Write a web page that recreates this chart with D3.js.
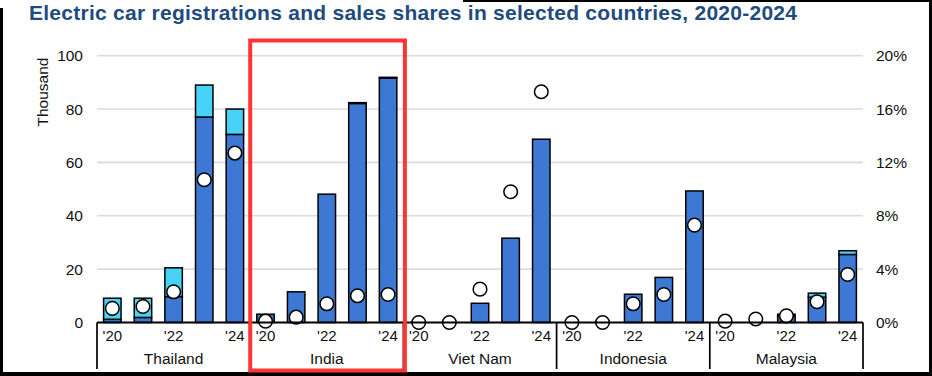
<!DOCTYPE html>
<html>
<head>
<meta charset="utf-8">
<script src="https://cdn.jsdelivr.net/npm/d3@7"></script>
<style>
  body { margin: 0; background: #fff; }
  svg { display: block; font-family: "Liberation Sans", Arial, sans-serif; }
</style>
</head>
<body>
<div id="chart-div"></div>
<script>
// Chart data
const countries = ["Thailand", "India", "Viet Nam", "Indonesia", "Malaysia"];
const years = ["2020", "2021", "2022", "2023", "2024"];
const yearLabels = ["'20", "", "'22", "", "'24"];

// thousand vehicles, dark part (lower) of each stack
const darkValues = {
    "Thailand":  [1.2, 1.9, 9.7, 77, 70.5],
    "India":     [3.1, 11.5, 48.1, 82.1, 91.6],
    "Viet Nam":  [0, 0, 7.2, 31.6, 68.7],
    "Indonesia": [0, 0, 10.6, 16.9, 49.3],
    "Malaysia":  [0, 0, 2.5, 9.5, 25.5]
};
// thousand vehicles, light part (upper) of each stack
const lightValues = {
    "Thailand":  [7.9, 7.2, 10.8, 12, 9.5],
    "India":     [0, 0, 0, 0.3, 0.3],
    "Viet Nam":  [0, 0, 0, 0, 0],
    "Indonesia": [0, 0, 0, 0, 0],
    "Malaysia":  [0, 0, 0.6, 1.5, 1.4]
};
// sales share, percent
const salesShare = {
    "Thailand":  [1.06, 1.2, 2.3, 10.7, 12.7],
    "India":     [0.1, 0.4, 1.4, 2.0, 2.1],
    "Viet Nam":  [0, 0, 2.5, 9.8, 17.3],
    "Indonesia": [0, 0, 1.4, 2.1, 7.3],
    "Malaysia":  [0.1, 0.26, 0.5, 1.56, 3.6]
};
const leftTicks = [0, 20, 40, 60, 80, 100];
const rightTicks = [0, 4, 8, 12, 16, 20];
const highlighted = "India";

const WIDTH = 932;
const HEIGHT = 376;
const PLOT = { left: 97, right: 863, top: 55.7, bottom: 322.5 };
const DARK = "#3c78d4";
const LIGHT = "#48d2f8";

const svg = d3.select("#chart-div").append("svg")
    .attr("width", WIDTH).attr("height", HEIGHT);

// Scales
const xGroup = d3.scaleBand().domain(countries).range([PLOT.left, PLOT.right]);
const xYear = d3.scaleBand().domain(years).range([0, xGroup.bandwidth()]).paddingInner(0.43).paddingOuter(0.215);
const yLeft = d3.scaleLinear().domain([0, 100]).range([PLOT.bottom, PLOT.top]);
const yRight = d3.scaleLinear().domain([0, 20]).range([PLOT.bottom, PLOT.top]);

// Outer frame of the picture
svg.append("rect").attr("x", 0).attr("y", 8).attr("width", 3).attr("height", HEIGHT - 8).attr("fill", "#000");
svg.append("rect").attr("x", 463).attr("y", 0).attr("width", WIDTH - 463).attr("height", 2).attr("fill", "#000");
svg.append("rect").attr("x", WIDTH - 3).attr("y", 0).attr("width", 3).attr("height", HEIGHT).attr("fill", "#000");
svg.append("rect").attr("x", 0).attr("y", HEIGHT - 4).attr("width", WIDTH).attr("height", 4).attr("fill", "#000");

// Title
svg.append("text")
    .attr("x", 29).attr("y", 19.5)
    .attr("font-size", 21).attr("font-weight", "bold")
    .attr("fill", "#1f4b7e")
    .attr("textLength", 768).attr("lengthAdjust", "spacing")
    .text("Electric car registrations and sales shares in selected countries, 2020-2024");

// Gridlines
svg.append("g").selectAll("line")
    .data(leftTicks.slice(1))
    .join("line")
    .attr("x1", PLOT.left).attr("x2", PLOT.right)
    .attr("y1", d => yLeft(d)).attr("y2", d => yLeft(d))
    .attr("stroke", "#dcdcdc").attr("stroke-width", 1.6);

// Left axis
const leftAxis = svg.append("g")
    .attr("transform", `translate(${PLOT.left},0)`)
    .call(d3.axisLeft(yLeft).tickValues(leftTicks).tickSize(0).tickPadding(14));
leftAxis.select(".domain").remove();
leftAxis.selectAll("text").attr("font-size", 15.5).attr("font-family", "Liberation Sans, Arial, sans-serif").attr("fill", "#111");

svg.append("text")
    .attr("transform", `translate(48,92) rotate(-90)`)
    .attr("text-anchor", "middle")
    .attr("font-size", 15.5).attr("fill", "#111")
    .text("Thousand");

// Right axis
const rightAxis = svg.append("g")
    .attr("transform", `translate(${PLOT.right},0)`)
    .call(d3.axisRight(yRight).tickValues(rightTicks).tickSize(0).tickPadding(13).tickFormat(d => d + "%"));
rightAxis.select(".domain").remove();
rightAxis.selectAll("text").attr("font-size", 15.5).attr("font-family", "Liberation Sans, Arial, sans-serif").attr("fill", "#111");

// Bars
const groups = svg.append("g").selectAll("g")
    .data(countries)
    .join("g")
    .attr("transform", c => `translate(${xGroup(c)},0)`);

groups.each(function (c) {
    const g = d3.select(this);
    const rows = years.map((yr, i) => ({ yr, dark: darkValues[c][i], light: lightValues[c][i] }));

    g.selectAll(".bar-dark")
        .data(rows.filter(d => d.dark > 0))
        .join("rect")
        .attr("class", "bar-dark")
        .attr("x", d => xYear(d.yr))
        .attr("width", xYear.bandwidth())
        .attr("y", d => yLeft(d.dark))
        .attr("height", d => yLeft(0) - yLeft(d.dark))
        .attr("fill", DARK).attr("stroke", "#000").attr("stroke-width", 1.5);

    g.selectAll(".bar-light")
        .data(rows.filter(d => d.light > 0))
        .join("rect")
        .attr("class", "bar-light")
        .attr("x", d => xYear(d.yr))
        .attr("width", xYear.bandwidth())
        .attr("y", d => yLeft(d.dark + d.light))
        .attr("height", d => yLeft(d.dark) - yLeft(d.dark + d.light))
        .attr("fill", LIGHT).attr("stroke", "#000").attr("stroke-width", 1.5);

    // Year labels
    g.selectAll(".year-label")
        .data(years.map((yr, i) => ({ yr, label: yearLabels[i] })).filter(d => d.label))
        .join("text")
        .attr("class", "year-label")
        .attr("x", d => xYear(d.yr) + xYear.bandwidth() / 2)
        .attr("y", 341)
        .attr("text-anchor", "middle")
        .attr("font-size", 15).attr("fill", "#111")
        .text(d => d.label);

    // Country label
    g.append("text")
        .attr("x", xGroup.bandwidth() / 2)
        .attr("y", 364)
        .attr("text-anchor", "middle")
        .attr("font-size", 15.5).attr("fill", "#111")
        .text(c);
});

// Baseline and category dividers
svg.append("line")
    .attr("x1", PLOT.left).attr("x2", PLOT.right)
    .attr("y1", yLeft(0)).attr("y2", yLeft(0))
    .attr("stroke", "#000").attr("stroke-width", 2);

const dividers = countries.map(c => xGroup(c)).concat([PLOT.right]);
svg.append("g").selectAll("line")
    .data(dividers)
    .join("line")
    .attr("x1", d => d).attr("x2", d => d)
    .attr("y1", yLeft(0)).attr("y2", 369)
    .attr("stroke", "#000").attr("stroke-width", 1.7);

// Sales share markers
groups.each(function (c) {
    d3.select(this).selectAll(".share")
        .data(years.map((yr, i) => ({ yr, v: salesShare[c][i] })))
        .join("circle")
        .attr("class", "share")
        .attr("cx", d => xYear(d.yr) + xYear.bandwidth() / 2)
        .attr("cy", d => yRight(d.v))
        .attr("r", 6.8)
        .attr("fill", "#fff").attr("stroke", "#000").attr("stroke-width", 1.5);
});

// Highlight box around one country
svg.append("rect")
    .attr("x", xGroup(highlighted))
    .attr("y", 40.5)
    .attr("width", xGroup.bandwidth() + 1.5)
    .attr("height", 330)
    .attr("fill", "none")
    .attr("stroke", "#ff3535").attr("stroke-width", 4);
</script>
</body>
</html>
